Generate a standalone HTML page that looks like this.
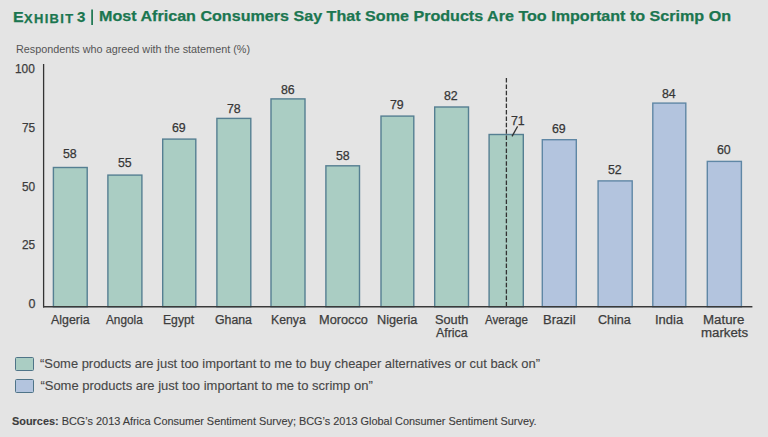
<!DOCTYPE html>
<html><head><meta charset="utf-8"><style>
html,body{margin:0;padding:0;}
body{width:768px;height:437px;background:#e4e4e4;position:relative;overflow:hidden;font-family:"Liberation Sans",sans-serif;}
.t{position:absolute;white-space:nowrap;line-height:1;transform-origin:0 0;-webkit-text-stroke:0.25px currentColor;}
.box{position:absolute;left:14.8px;width:19.4px;height:14px;box-sizing:border-box;border:1.8px solid #4f7488;border-radius:1.5px;}
</style></head><body>
<svg width="768" height="437" style="position:absolute;left:0;top:0">
<rect x="53.40" y="167.50" width="33.80" height="139.25" fill="#aacdc3" stroke="#557f92" stroke-width="1.4"/>
<rect x="107.90" y="175.10" width="34.00" height="131.65" fill="#aacdc3" stroke="#557f92" stroke-width="1.4"/>
<rect x="162.70" y="139.10" width="33.10" height="167.65" fill="#aacdc3" stroke="#557f92" stroke-width="1.4"/>
<rect x="216.90" y="118.40" width="33.90" height="188.35" fill="#aacdc3" stroke="#557f92" stroke-width="1.4"/>
<rect x="271.00" y="98.90" width="34.00" height="207.85" fill="#aacdc3" stroke="#557f92" stroke-width="1.4"/>
<rect x="325.90" y="165.80" width="33.60" height="140.95" fill="#aacdc3" stroke="#557f92" stroke-width="1.4"/>
<rect x="381.00" y="116.10" width="32.80" height="190.65" fill="#aacdc3" stroke="#557f92" stroke-width="1.4"/>
<rect x="434.70" y="107.00" width="33.80" height="199.75" fill="#aacdc3" stroke="#557f92" stroke-width="1.4"/>
<rect x="489.10" y="134.50" width="34.20" height="172.25" fill="#aacdc3" stroke="#557f92" stroke-width="1.4"/>
<rect x="542.30" y="139.70" width="34.00" height="167.05" fill="#b3c4de" stroke="#5f87a5" stroke-width="1.4"/>
<rect x="598.10" y="180.90" width="34.10" height="125.85" fill="#b3c4de" stroke="#5f87a5" stroke-width="1.4"/>
<rect x="652.80" y="103.10" width="33.00" height="203.65" fill="#b3c4de" stroke="#5f87a5" stroke-width="1.4"/>
<rect x="707.30" y="161.40" width="34.10" height="145.35" fill="#b3c4de" stroke="#5f87a5" stroke-width="1.4"/>
<line x1="506.4" y1="78" x2="506.4" y2="306" stroke="#333" stroke-width="1.3" stroke-dasharray="4.5 1.9"/>
<line x1="517.6" y1="126.4" x2="512" y2="136.4" stroke="#333" stroke-width="1.3"/>
<line x1="43.6" y1="64" x2="43.6" y2="307.5" stroke="#333" stroke-width="1.3"/>
<line x1="43" y1="306.75" x2="752.4" y2="306.75" stroke="#3a3a3a" stroke-width="1.5"/>
<line x1="92.1" y1="9.4" x2="92.1" y2="25.0" stroke="#1b7650" stroke-width="1.7"/>
</svg>
<div class="t" style="left:13.14px;top:8.8px;font-size:15px;font-weight:bold;color:#1b7650;transform:scaleX(1.0625);">E</div>
<div class="t" style="left:23.57px;top:12.5px;font-size:12.5px;font-weight:bold;color:#1b7650;letter-spacing:1.3px;transform:scaleX(1.0348);">XHIBIT</div>
<div class="t" style="left:77.03px;top:8.8px;font-size:15.5px;font-weight:bold;color:#1b7650;transform:scaleX(0.9714);">3</div>
<div class="t" style="left:99.23px;top:8.0px;font-size:15px;font-weight:bold;color:#1b7650;transform:scaleX(1.0736);">Most African Consumers Say That Some Products Are Too Important to Scrimp On</div>
<div class="t" style="left:15.57px;top:43.9px;font-size:10.5px;font-weight:normal;color:#555;transform:scaleX(1.0307);-webkit-text-stroke:0px;">Respondents who agreed with the statement (%)</div>
<div class="t" style="left:14.85px;top:62.7px;font-size:12.5px;font-weight:normal;color:#3c3c3c;transform:scaleX(0.95);">100</div>
<div class="t" style="left:22.45px;top:121.9px;font-size:12.5px;font-weight:normal;color:#3c3c3c;transform:scaleX(0.95);">75</div>
<div class="t" style="left:21.5px;top:180.6px;font-size:12.5px;font-weight:normal;color:#3c3c3c;transform:scaleX(0.95);">50</div>
<div class="t" style="left:22.45px;top:239.3px;font-size:12.5px;font-weight:normal;color:#3c3c3c;transform:scaleX(0.95);">25</div>
<div class="t" style="left:28.4px;top:297.7px;font-size:12.5px;font-weight:normal;color:#3c3c3c;">0</div>
<div class="t" style="left:50.9px;top:314.3px;font-size:12.5px;font-weight:normal;color:#3c3c3c;transform:scaleX(0.9897);">Algeria</div>
<div class="t" style="left:106.4px;top:314.3px;font-size:12.5px;font-weight:normal;color:#3c3c3c;transform:scaleX(0.9436);">Angola</div>
<div class="t" style="left:163.43px;top:314.3px;font-size:12.5px;font-weight:normal;color:#3c3c3c;transform:scaleX(0.9742);">Egypt</div>
<div class="t" style="left:215.22px;top:314.3px;font-size:12.5px;font-weight:normal;color:#3c3c3c;transform:scaleX(0.9833);">Ghana</div>
<div class="t" style="left:270.72px;top:314.3px;font-size:12.5px;font-weight:normal;color:#3c3c3c;transform:scaleX(0.9794);">Kenya</div>
<div class="t" style="left:318.88px;top:314.3px;font-size:12.5px;font-weight:normal;color:#3c3c3c;transform:scaleX(1.0217);">Morocco</div>
<div class="t" style="left:376.88px;top:314.3px;font-size:12.5px;font-weight:normal;color:#3c3c3c;transform:scaleX(1.0179);">Nigeria</div>
<div class="t" style="left:434.58px;top:314.3px;font-size:12.5px;font-weight:normal;color:#3c3c3c;transform:scaleX(1.0194);">South</div>
<div class="t" style="left:484.8px;top:314.3px;font-size:12.5px;font-weight:normal;color:#3c3c3c;transform:scaleX(0.9261);">Average</div>
<div class="t" style="left:543.06px;top:314.3px;font-size:12.5px;font-weight:normal;color:#3c3c3c;transform:scaleX(1.0433);">Brazil</div>
<div class="t" style="left:598.2px;top:314.3px;font-size:12.5px;font-weight:normal;color:#3c3c3c;transform:scaleX(1.0031);">China</div>
<div class="t" style="left:654.96px;top:314.3px;font-size:12.5px;font-weight:normal;color:#3c3c3c;transform:scaleX(1.0385);">India</div>
<div class="t" style="left:703.34px;top:314.3px;font-size:12.5px;font-weight:normal;color:#3c3c3c;transform:scaleX(1.0622);">Mature</div>
<div class="t" style="left:435.6px;top:327.0px;font-size:12.5px;font-weight:normal;color:#3c3c3c;transform:scaleX(0.9875);">Africa</div>
<div class="t" style="left:700.54px;top:327.0px;font-size:12.5px;font-weight:normal;color:#3c3c3c;transform:scaleX(1.0605);">markets</div>
<div class="t" style="left:63.42px;top:147.3px;font-size:13px;font-weight:normal;color:#363636;transform:scaleX(0.95);">58</div>
<div class="t" style="left:118.22px;top:155.5px;font-size:13px;font-weight:normal;color:#363636;transform:scaleX(0.95);">55</div>
<div class="t" style="left:172.22px;top:121.2px;font-size:13px;font-weight:normal;color:#363636;transform:scaleX(0.95);">69</div>
<div class="t" style="left:226.58px;top:102.0px;font-size:13px;font-weight:normal;color:#363636;transform:scaleX(0.95);">78</div>
<div class="t" style="left:281.12px;top:82.5px;font-size:13px;font-weight:normal;color:#363636;transform:scaleX(0.95);">86</div>
<div class="t" style="left:335.98px;top:148.5px;font-size:13px;font-weight:normal;color:#363636;transform:scaleX(0.95);">58</div>
<div class="t" style="left:390.38px;top:98.1px;font-size:13px;font-weight:normal;color:#363636;transform:scaleX(0.95);">79</div>
<div class="t" style="left:444.33px;top:89.0px;font-size:13px;font-weight:normal;color:#363636;transform:scaleX(0.95);">82</div>
<div class="t" style="left:511.08px;top:113.7px;font-size:13px;font-weight:normal;color:#363636;transform:scaleX(0.95);">71</div>
<div class="t" style="left:552.38px;top:121.8px;font-size:13px;font-weight:normal;color:#363636;transform:scaleX(0.95);">69</div>
<div class="t" style="left:608.38px;top:162.5px;font-size:13px;font-weight:normal;color:#363636;transform:scaleX(0.95);">52</div>
<div class="t" style="left:662.28px;top:87.4px;font-size:13px;font-weight:normal;color:#363636;transform:scaleX(0.95);">84</div>
<div class="t" style="left:717.28px;top:142.9px;font-size:13px;font-weight:normal;color:#363636;transform:scaleX(0.95);">60</div>
<div class="t" style="left:40.4px;top:357.2px;font-size:13px;font-weight:normal;color:#474747;transform:scaleX(0.9942);-webkit-text-stroke:0.12px currentColor;">“Some products are just too important to me to buy cheaper alternatives or cut back on”</div>
<div class="t" style="left:40.4px;top:379.3px;font-size:13px;font-weight:normal;color:#474747;-webkit-text-stroke:0.12px currentColor;">“Some products are just too important to me to scrimp on”</div>
<div class="t" style="left:12.31px;top:416.2px;font-size:11px;font-weight:normal;color:#3c3c3c;transform:scaleX(0.9909);-webkit-text-stroke:0.12px currentColor;"><b>Sources:</b> BCG’s 2013 Africa Consumer Sentiment Survey; BCG’s 2013 Global Consumer Sentiment Survey.</div>
<div class="box" style="top:356.8px;background:#aacdc3"></div>
<div class="box" style="top:378.8px;background:#b3c4de"></div>
</body></html>
